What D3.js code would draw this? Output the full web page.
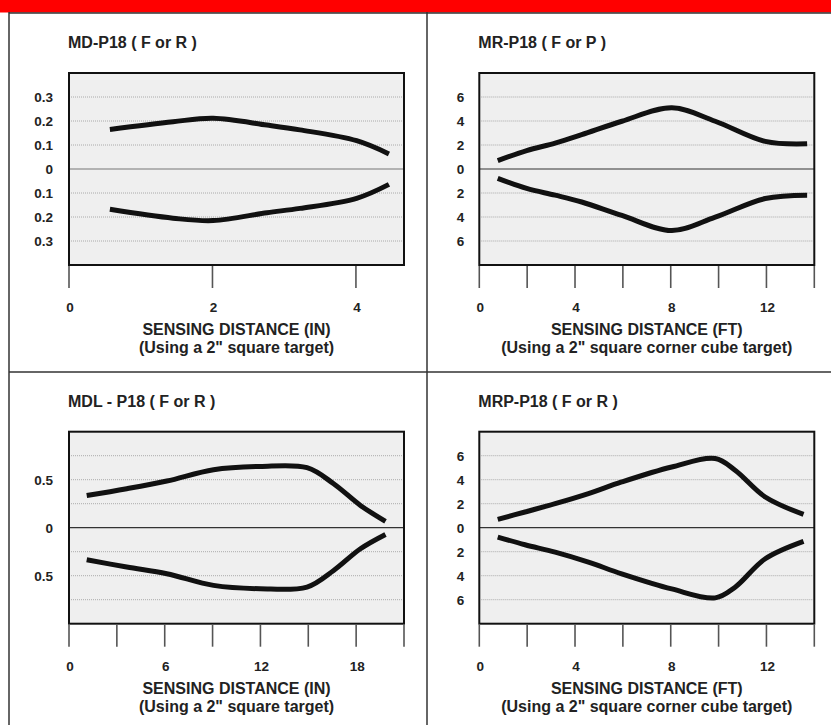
<!DOCTYPE html>
<html><head><meta charset="utf-8">
<script src="https://cdn.jsdelivr.net/npm/d3@7"></script>
<style>body{margin:0;background:#fff;}svg{display:block;font-family:"Liberation Sans",Arial,sans-serif;font-weight:bold;}</style>
</head><body><svg id="c" width="831" height="725"></svg>
<script>
// ---- Data ----
const titles = ["MD-P18 ( F or R )", "MR-P18 ( F or P )", "MDL - P18 ( F or R )", "MRP-P18 ( F or R )"];
const axisTitles = ["SENSING DISTANCE (IN)", "SENSING DISTANCE (FT)", "SENSING DISTANCE (IN)", "SENSING DISTANCE (FT)"];
const subTitles = ["(Using a 2\" square target)", "(Using a 2\" square corner cube target)", "(Using a 2\" square target)", "(Using a 2\" square corner cube target)"];

// Panel 1: MD-P18
const mdX = [0.57, 1.45, 2.01, 2.76, 3.22, 4.01, 4.46];
const mdUpper = [0.165, 0.197, 0.211, 0.183, 0.163, 0.118, 0.063];
const mdLower = [-0.168, -0.205, -0.215, -0.182, -0.164, -0.122, -0.064];
const mdXTicks = [0, 2, 4];
const mdXLabels = [0, 2, 4];
const mdYGrid = [0.3, 0.2, 0.1, -0.1, -0.2, -0.3];
const mdYLabels = [0.3, 0.2, 0.1, 0, -0.1, -0.2, -0.3];

// Panel 2: MR-P18
const mrX = [0.77, 1.98, 3.17, 4.28, 5.96, 8.05, 9.86, 11.95, 13.7];
const mrUpper = [0.70, 1.54, 2.16, 2.86, 3.98, 5.10, 3.98, 2.30, 2.10];
const mrLower = [-0.78, -1.62, -2.18, -2.75, -3.87, -5.13, -4.01, -2.46, -2.18];
const mrXTicks = [0, 2, 4, 6, 8, 10, 12, 14];
const mrXLabels = [0, 4, 8, 12];
const mrYGrid = [6, 4, 2, -2, -4, -6];
const mrYLabels = [6, 4, 2, 0, -2, -4, -6];

// Panel 3: MDL-P18
const mdlX = [1.11, 3.62, 6.13, 9.06, 11.99, 14.92, 16.59, 18.27, 19.84];
const mdlUpper = [0.336, 0.406, 0.486, 0.604, 0.638, 0.625, 0.458, 0.232, 0.066];
const mdlLower = [-0.333, -0.41, -0.479, -0.601, -0.636, -0.618, -0.445, -0.219, -0.07];
const mdlXTicks = [0, 3, 6, 9, 12, 15, 18, 21];
const mdlXLabels = [0, 6, 12, 18];
const mdlYGrid = [0.75, 0.5, 0.25, -0.25, -0.5, -0.75];
const mdlYLabels = [0.5, 0, -0.5];

// Panel 4: MRP-P18
const mrpX = [0.77, 1.91, 3.17, 4.56, 5.95, 8.04, 9.86, 10.69, 11.95, 13.55];
const mrpUpper = [0.69, 1.31, 2.0, 2.84, 3.81, 5.06, 5.76, 4.79, 2.56, 1.11];
const mrpLower = [-0.78, -1.42, -2.04, -2.87, -3.84, -5.1, -5.85, -4.96, -2.59, -1.14];
const mrpXTicks = [0, 2, 4, 6, 8, 10, 12, 14];
const mrpXLabels = [0, 4, 8, 12];
const mrpYGrid = [6, 4, 2, -2, -4, -6];
const mrpYLabels = [6, 4, 2, 0, -2, -4, -6];

const panels = [
  {x: mdX, up: mdUpper, lo: mdLower, xd: [0, 4.67], yd: [-0.4, 0.4], xt: mdXTicks, xl: mdXLabels, yg: mdYGrid, yl: mdYLabels, fmt: v => Math.abs(v) === 0 ? "0" : Math.abs(v).toFixed(1)},
  {x: mrX, up: mrUpper, lo: mrLower, xd: [0, 14], yd: [-8, 8], xt: mrXTicks, xl: mrXLabels, yg: mrYGrid, yl: mrYLabels, fmt: v => String(Math.abs(v))},
  {x: mdlX, up: mdlUpper, lo: mdlLower, xd: [0, 21], yd: [-1, 1], xt: mdlXTicks, xl: mdlXLabels, yg: mdlYGrid, yl: mdlYLabels, fmt: v => v === 0 ? "0" : Math.abs(v).toFixed(1)},
  {x: mrpX, up: mrpUpper, lo: mrpLower, xd: [0, 14], yd: [-8, 8], xt: mrpXTicks, xl: mrpXLabels, yg: mrpYGrid, yl: mrpYLabels, fmt: v => String(Math.abs(v))}
];

// ---- Layout ----
const svg = d3.select("#c");
svg.append("rect").attr("x", 0).attr("y", 0).attr("width", 831).attr("height", 12.5).attr("fill", "#ff0000");
const frame = "#333";
svg.append("line").attr("x1", 9).attr("x2", 831).attr("y1", 13).attr("y2", 13).attr("stroke", frame).attr("stroke-width", 1.5);
svg.append("line").attr("x1", 9).attr("x2", 9).attr("y1", 12).attr("y2", 725).attr("stroke", frame).attr("stroke-width", 1.5);
svg.append("line").attr("x1", 427).attr("x2", 427).attr("y1", 12).attr("y2", 725).attr("stroke", frame).attr("stroke-width", 1.5);
svg.append("line").attr("x1", 9).attr("x2", 831).attr("y1", 372).attr("y2", 372).attr("stroke", frame).attr("stroke-width", 1.5);

const offsets = [[0, 0], [410.3, 0], [0, 358.7], [410.3, 358.7]];
const boxW = 335, boxH = 192;

panels.forEach((p, i) => {
  const [ox, oy] = offsets[i];
  const g = svg.append("g").attr("transform", `translate(${69 + ox},${73 + oy})`);
  const x = d3.scaleLinear().domain(p.xd).range([0, boxW]);
  const y = d3.scaleLinear().domain(p.yd).range([boxH, 0]);

  // Title
  g.append("text").attr("x", -1).attr("y", -25).attr("font-size", 16).attr("fill", "#222").text(titles[i]);

  g.append("rect").attr("width", boxW).attr("height", boxH).attr("fill", "#efefef");
  // grid
  g.selectAll(".grid").data(p.yg).enter().append("line")
    .attr("x1", 2).attr("x2", boxW - 2).attr("y1", d => y(d)).attr("y2", d => y(d))
    .attr("stroke", "#999").attr("stroke-width", 0.8).attr("stroke-dasharray", "1,1");
  g.append("line").attr("x1", 0).attr("x2", boxW).attr("y1", y(0)).attr("y2", y(0))
    .attr("stroke", i === 0 ? "#777" : "#333").attr("stroke-width", 1.2);
  g.append("rect").attr("width", boxW).attr("height", boxH).attr("fill", "none").attr("stroke", "#111").attr("stroke-width", 2);

  // y labels
  g.selectAll(".yl").data(p.yl).enter().append("text")
    .attr("x", i % 2 === 0 ? -16 : -15).attr("y", d => y(d)).attr("dy", "0.36em")
    .attr("text-anchor", "end").attr("font-size", 13.5).attr("fill", "#222").text(p.fmt);

  // x tick marks
  g.selectAll(".xt").data(p.xt).enter().append("line")
    .attr("x1", d => x(d)).attr("x2", d => x(d)).attr("y1", boxH + 1).attr("y2", boxH + 23)
    .attr("stroke", "#555").attr("stroke-width", 1.6);
  g.selectAll(".xl").data(p.xl).enter().append("text")
    .attr("x", d => x(d) + 1).attr("y", boxH + 47).attr("text-anchor", "middle")
    .attr("font-size", 13.5).attr("fill", "#222").text(d => d);

  g.append("text").attr("x", boxW / 2).attr("y", boxH + 70).attr("text-anchor", "middle")
    .attr("font-size", 16).attr("fill", "#222").text(axisTitles[i]);
  g.append("text").attr("x", boxW / 2).attr("y", boxH + 88).attr("text-anchor", "middle")
    .attr("font-size", 16).attr("fill", "#222").text(subTitles[i]);

  const line = d3.line().x(d => x(d[0])).y(d => y(d[1])).curve(d3.curveCatmullRom.alpha(0.5));
  [p.up, p.lo].forEach(arr => {
    g.append("path").datum(p.x.map((v, k) => [v, arr[k]])).attr("d", line)
      .attr("fill", "none").attr("stroke", "#111").attr("stroke-width", 5).attr("stroke-linecap", "butt");
  });
});
</script></body></html>
